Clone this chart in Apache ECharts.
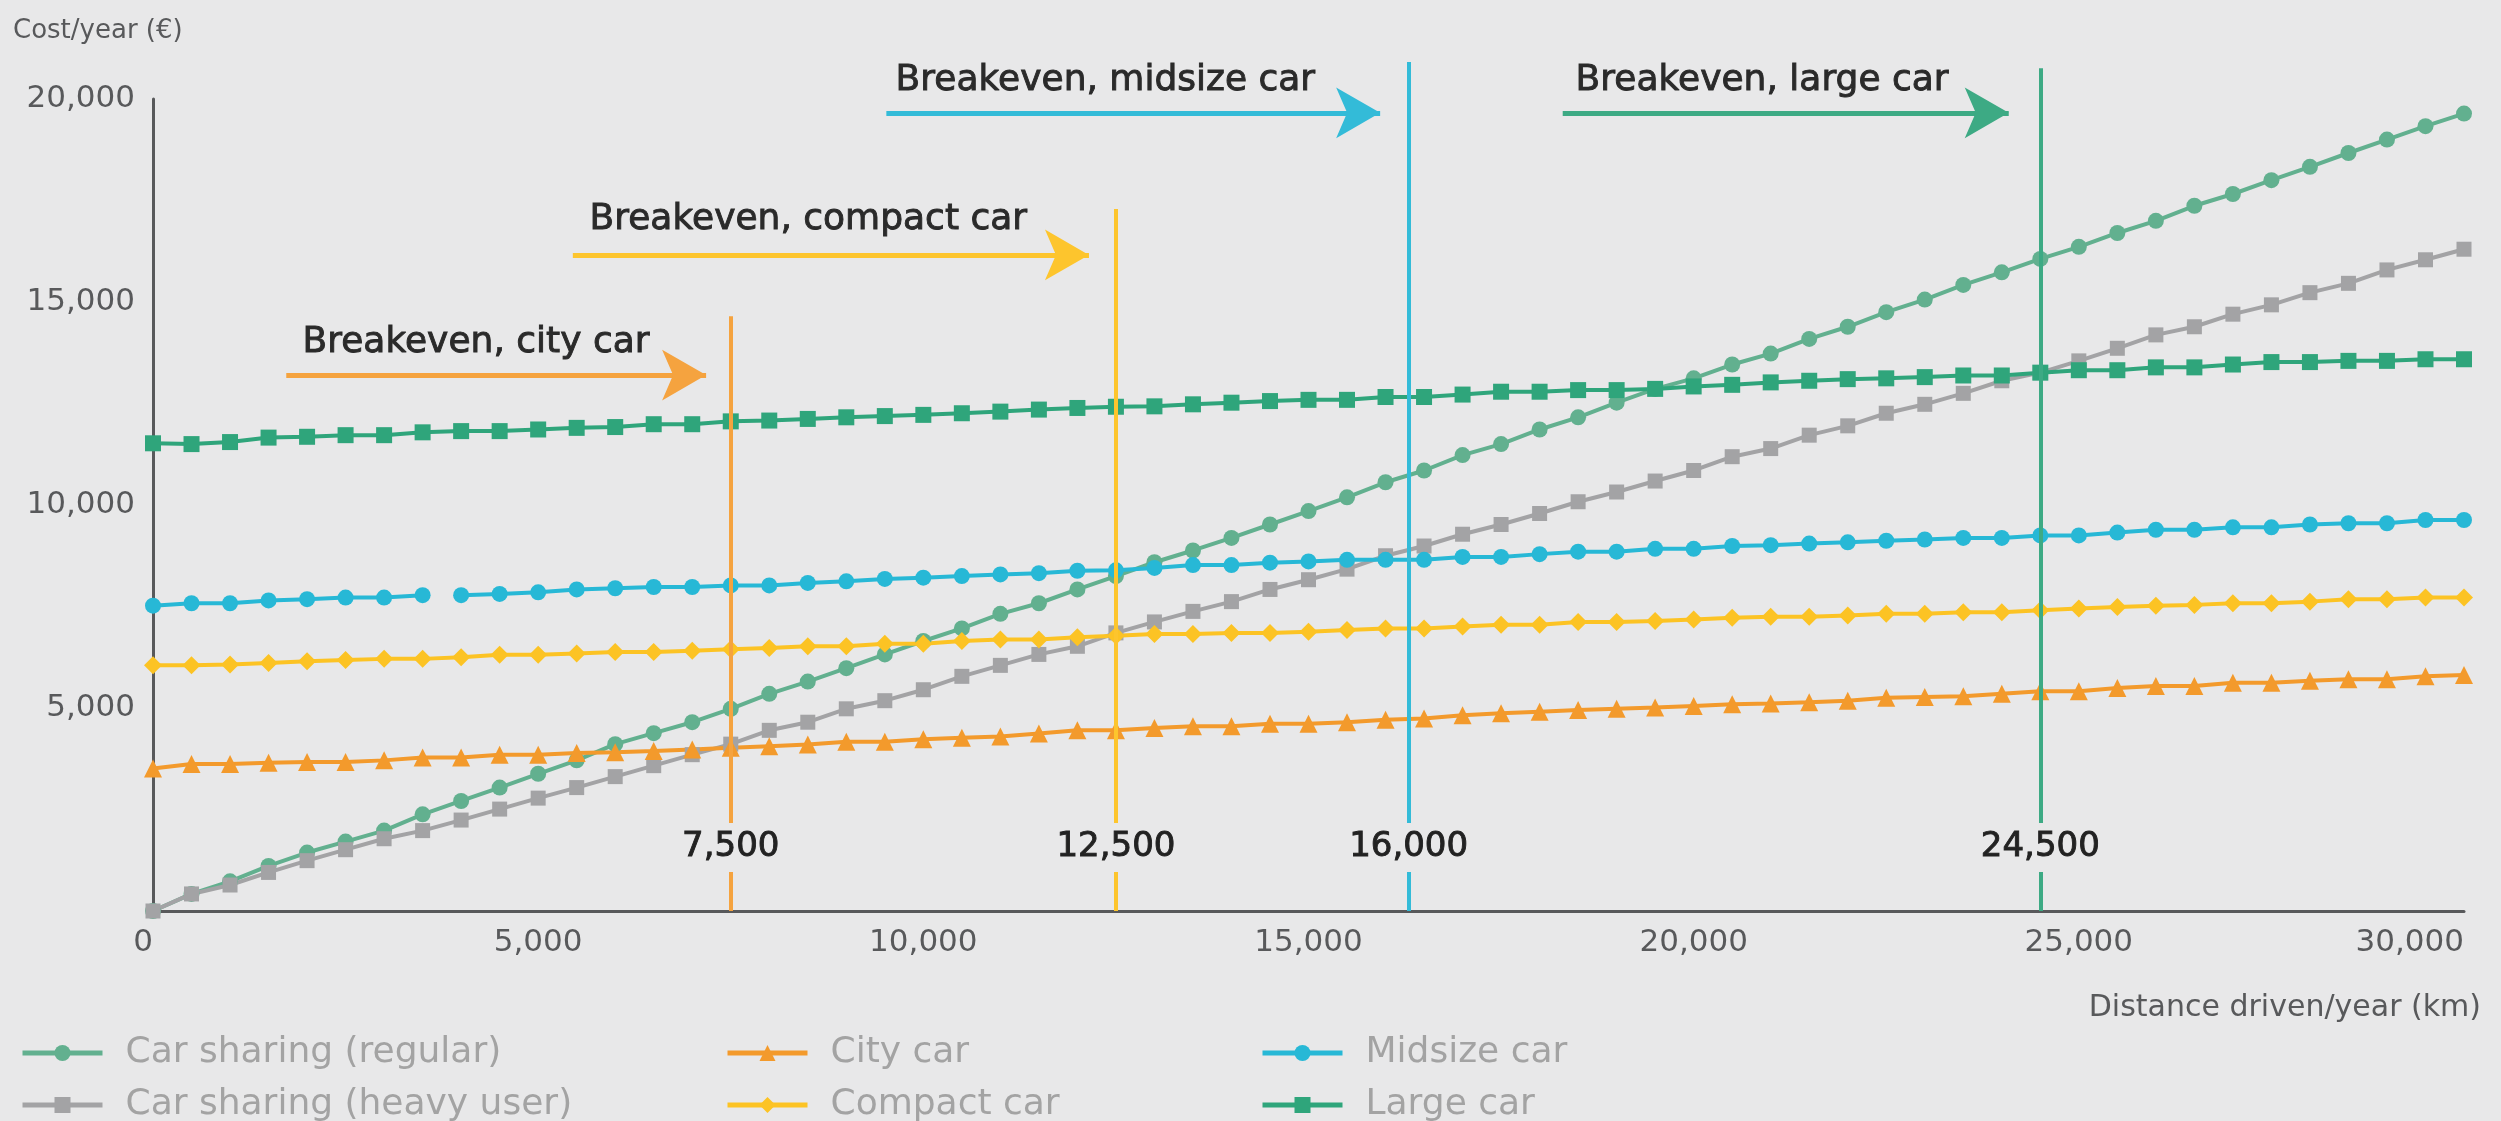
<!DOCTYPE html>
<html>
<head>
<meta charset="utf-8">
<script src="https://cdn.jsdelivr.net/npm/echarts@6/dist/echarts.min.js"></script>
<style>
html,body{margin:0;padding:0;background:#e8e8e9;}
#c{width:2501px;height:1121px;}
</style>
</head>
<body>
<div id="c"></div>
<script>
// ---------- DATA ----------
const distances = [0,500,1000,1500,2000,2500,3000,3500,4000,4500,
  5000,5500,6000,6500,7000,7500,8000,8500,9000,9500,
  10000,10500,11000,11500,12000,12500,13000,13500,14000,14500,
  15000,15500,16000,16500,17000,17500,18000,18500,19000,19500,
  20000,20500,21000,21500,22000,22500,23000,23500,24000,24500,
  25000,25500,26000,26500,27000,27500,28000,28500,29000,29500,
  30000];

const carSharingRegular = [0,420,730,1110,1440,1710,1980,2380,2710,3040,
  3380,3710,4110,4380,4650,4980,5350,5650,5980,6320,
  6650,6960,7320,7580,7920,8250,8590,8880,9190,9520,
  9850,10190,10560,10850,11230,11500,11860,12160,12520,12860,
  13120,13460,13730,14090,14390,14750,15060,15420,15730,16060,
  16360,16700,17000,17370,17660,18000,18330,18670,19000,19330,
  19640];

const carSharingHeavy = [0,420,640,950,1240,1510,1780,1980,2240,2510,
  2780,3040,3310,3580,3850,4110,4450,4650,4980,5180,
  5450,5780,6050,6320,6520,6850,7120,7380,7620,7920,
  8160,8420,8750,8990,9280,9520,9790,10080,10320,10590,
  10850,11190,11390,11720,11950,12260,12480,12750,13060,13260,
  13550,13860,14190,14390,14700,14930,15230,15460,15790,16040,
  16300];

const cityCar = [3510,3620,3620,3650,3670,3670,3710,3780,3780,3850,
  3850,3890,3910,3940,3980,4020,4060,4100,4170,4170,
  4230,4270,4300,4370,4450,4450,4510,4550,4550,4610,
  4610,4650,4710,4740,4820,4870,4910,4950,4980,5010,
  5050,5090,5110,5140,5180,5250,5270,5290,5350,5410,
  5410,5490,5540,5540,5620,5620,5670,5710,5710,5780,
  5810];

const compactCar = [6050,6050,6070,6110,6150,6180,6210,6210,6250,6310,
  6310,6340,6380,6380,6410,6450,6480,6520,6520,6580,
  6580,6650,6690,6690,6740,6780,6820,6820,6850,6850,
  6880,6920,6960,6960,7010,7050,7050,7120,7120,7140,
  7180,7220,7250,7250,7280,7320,7320,7360,7360,7410,
  7450,7490,7520,7540,7580,7580,7620,7680,7680,7720,
  7720];

const midsizeCar = [7520,7580,7580,7650,7680,7720,7720,7780,7780,7810,
  7850,7920,7950,7980,7980,8020,8020,8080,8120,8180,
  8210,8250,8290,8320,8380,8390,8450,8520,8520,8580,
  8610,8650,8650,8650,8720,8720,8790,8850,8850,8920,
  8920,8990,9010,9050,9080,9120,9150,9190,9190,9250,
  9250,9320,9390,9390,9450,9450,9520,9550,9550,9630,
  9630];

const largeCar = [11520,11500,11550,11660,11680,11720,11720,11790,11820,11820,
  11860,11900,11920,11990,11990,12060,12080,12120,12160,12190,
  12220,12260,12300,12350,12390,12420,12430,12480,12520,12560,
  12590,12590,12660,12660,12720,12790,12790,12830,12830,12860,
  12920,12960,13020,13060,13100,13120,13150,13190,13190,13260,
  13320,13320,13390,13390,13460,13520,13520,13550,13550,13590,
  13590];

const seriesNames = ['Car sharing (regular)','Car sharing (heavy user)','City car','Compact car','Midsize car','Large car'];

const xTickValues = [0,5000,10000,15000,20000,25000,30000];
const xTickLabels = ['0','5,000','10,000','15,000','20,000','25,000','30,000'];
const yTickValues = [0,5000,10000,15000,20000];
const yTickLabels = ['0','5,000','10,000','15,000','20,000'];

const breakevenX = [7500,12500,16300,24500];
const breakevenLabels = ['7,500','12,500','16,000','24,500'];
const breakevenTitles = ['Breakeven, city car','Breakeven, compact car','Breakeven, midsize car','Breakeven, large car'];

// the midsize line is broken after this distance in the original
const midsizeGapAfter = 3500;

// ---------- LAYOUT / STYLE ----------
const FONT = 'DejaVu Sans';
const BG = '#e8e8e9';
const AXIS = '#58595b';
const colors = {
  regular:'#62b08f', heavy:'#a3a3a5', city:'#f39a2c',
  compact:'#fcc324', midsize:'#27b8d6', large:'#2fa57b'
};
const breakevenColors = ['#f5a33f','#fdc52d','#33bbd8','#3daa84'];
// annotation placement in data units of the overlay grid
const annot = {
  arrowFrom:[1730,5450,9520,18300],
  arrowTo:[7180,12150,15930,24090],
  arrowY:[13200,16160,19660,19660],
  textX:[1934,5660,9633,18460],
  textY:[13990,17020,20450,20450],
  lineTop:[14650,17290,20910,20760],
  gapBottom:960, gapTop:2170, numberY:1576
};
// legend placement: [left, top] per series
const legendPos = [[15,1028],[15,1080],[720,1028],[720,1080],[1255,1028],[1255,1080]];

function pairs(arr){ return distances.map((d,i)=>[d, arr[i]]); }
const midsizeData = [];
distances.forEach((d,i)=>{
  midsizeData.push([d, midsizeCar[i]]);
  if (d === midsizeGapAfter) midsizeData.push([d + 1, '-']);
});

function lookup(values, labels){ return v => { const i = values.indexOf(v); return i >= 0 ? labels[i] : ''; }; }

// ---------- ANNOTATIONS ----------
const mlData = [];
const mpData = [];
breakevenX.forEach((bx,k)=>{
  const c = breakevenColors[k];
  mlData.push([{coord:[bx,0], lineStyle:{color:c,width:4,type:'solid'}},{coord:[bx,annot.gapBottom]}]);
  mlData.push([{coord:[bx,annot.gapTop], lineStyle:{color:c,width:4,type:'solid'}},{coord:[bx,annot.lineTop[k]]}]);
  mlData.push([
    {coord:[annot.arrowFrom[k],annot.arrowY[k]], symbol:'none', lineStyle:{color:c,width:5,type:'solid'}},
    {coord:[annot.arrowTo[k],annot.arrowY[k]], symbol:'arrow', symbolSize:[38,44]}
  ]);
  mpData.push({name:breakevenTitles[k], coord:[annot.textX[k],annot.textY[k]], symbol:'circle', symbolSize:1,
    itemStyle:{color:'rgba(0,0,0,0)'},
    label:{show:true, position:'right', distance:0, formatter:'{b}', fontSize:36, color:'#2a2a2a', fontFamily:FONT,
      textBorderColor:'#2a2a2a', textBorderWidth:0.9}});
  mpData.push({name:breakevenLabels[k], coord:[bx,annot.numberY], symbol:'circle', symbolSize:1,
    itemStyle:{color:'rgba(0,0,0,0)'},
    label:{show:true, position:'inside', formatter:'{b}', fontSize:34, color:'#222222', fontFamily:FONT,
      textBorderColor:'#222222', textBorderWidth:0.9}});
});

function lineSeries(name, data, color, symbol, size){
  return {name, type:'line', data, symbol, symbolSize:size, showSymbol:true,
    lineStyle:{color, width:4}, itemStyle:{color}, emphasis:{disabled:true}, connectNulls:false};
}

const legends = seriesNames.map((n,i)=>({
  orient:'horizontal', left:legendPos[i][0], top:legendPos[i][1], itemWidth:80, itemHeight:20,
  lineStyle:{width:5},
  data:[n], textStyle:{fontSize:36, color:'#a3a3a3', fontFamily:FONT, lineHeight:40, padding:[0,0,0,18]}
}));

const option = {
  backgroundColor: BG,
  animation:false,
  textStyle:{fontFamily:FONT},
  title:[
    {text:'Cost/year (€)', left:13, top:16, padding:0, textStyle:{fontSize:26, color:AXIS, fontWeight:'normal', fontFamily:FONT, lineHeight:30}},
    {text:'Distance driven/year (km)', right:20, top:992, padding:0, textStyle:{fontSize:30, color:AXIS, fontWeight:'normal', fontFamily:FONT, lineHeight:32}}
  ],
  legend: legends,
  grid:[
    {left:153, right:37, top:99, bottom:210},
    {left:153, right:37, top:17.8, bottom:210}
  ],
  xAxis:[
    {type:'value', min:0, max:30000, interval:5000,
     axisLine:{show:true, lineStyle:{color:AXIS, width:3}}, axisTick:{show:false}, splitLine:{show:false},
     axisLabel:{fontSize:31, color:AXIS, margin:16, fontFamily:FONT, formatter:lookup(xTickValues,xTickLabels),
       alignMinLabel:'right', alignMaxLabel:'right'}},
    {gridIndex:1, type:'value', min:0, max:30000, show:false}
  ],
  yAxis:[
    {type:'value', min:0, max:20000, interval:5000,
     axisLine:{show:true, lineStyle:{color:AXIS, width:3}}, axisTick:{show:false}, splitLine:{show:false},
     axisLabel:{fontSize:31, color:AXIS, margin:18, fontFamily:FONT, showMinLabel:false, formatter:lookup(yTickValues,yTickLabels)}},
    {gridIndex:1, type:'value', min:0, max:22000, show:false}
  ],
  series:[
    {name:'annotations', type:'line', xAxisIndex:1, yAxisIndex:1, data:[], silent:true, symbol:'none',
     markLine:{silent:true, symbol:['none','none'], label:{show:false}, lineStyle:{type:'solid'}, data:mlData, animation:false},
     markPoint:{silent:true, data:mpData, animation:false}},
    lineSeries(seriesNames[0], pairs(carSharingRegular), colors.regular, 'circle', 16),
    lineSeries(seriesNames[1], pairs(carSharingHeavy), colors.heavy, 'rect', 15),
    lineSeries(seriesNames[2], pairs(cityCar), colors.city, 'triangle', 18),
    lineSeries(seriesNames[3], pairs(compactCar), colors.compact, 'diamond', 18),
    lineSeries(seriesNames[4], midsizeData, colors.midsize, 'circle', 16),
    lineSeries(seriesNames[5], pairs(largeCar), colors.large, 'rect', 16)
  ]
};

const chart = echarts.init(document.getElementById('c'), null, {renderer:'canvas'});
chart.setOption(option);
</script>
</body>
</html>
